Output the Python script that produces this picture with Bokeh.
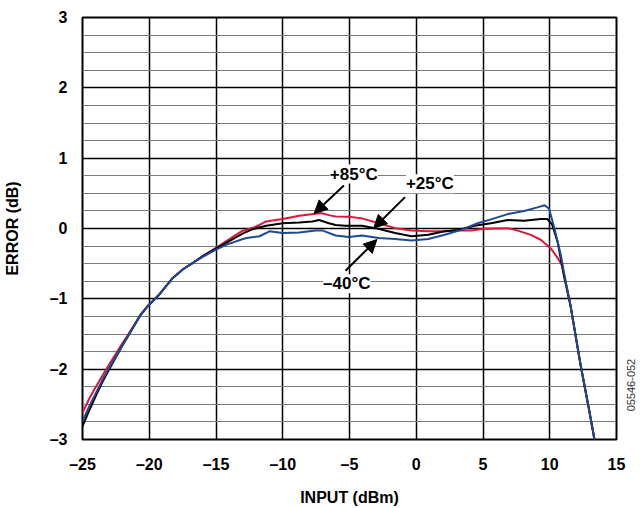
import math
from bokeh.plotting import figure
from bokeh.models import (Range1d, FixedTicker, Label, Arrow, NormalHead, LinearAxis)
from bokeh.embed import file_html
from bokeh.resources import INLINE

# ---- data ----
x_85 = [-25, -24.5, -24, -23.5, -23.0, -22.5, -22.0, -21.65, -20.66, -20.05, -19.3, -18.3, -17.45,
        -16.7, -15.96, -14.96, -14.0, -13.1, -12.24, -11.74, -11.25, -10.0, -8.77, -7.53,
        -7.16, -6.54, -6.04, -5.05, -4.06, -2.82, -1.58, -0.35, 0.9, 2.14, 3.13, 4.12, 5.1,
        6.85, 7.6, 8.58, 9.32, 10.06, 10.6, 10.93, 11.55, 12.3, 12.9, 13.35]
y_85 = [-2.62, -2.42, -2.25, -2.09, -1.93, -1.78, -1.63, -1.53, -1.23, -1.09, -0.95, -0.716, -0.576,
        -0.484, -0.39, -0.27, -0.15, -0.04, 0.01, 0.05, 0.10, 0.135, 0.18, 0.21,
        0.22, 0.19, 0.17, 0.167, 0.144, 0.075, 0.005, -0.03, -0.04, -0.04, -0.03, -0.03, -0.005,
        0.005, -0.03, -0.09, -0.16, -0.28, -0.42, -0.53, -1.09, -1.93, -2.53, -3.0]

x_25 = [-25, -24.5, -24.0, -23.5, -23.0, -22.5, -22.0, -21.65, -20.66, -20.05, -19.3, -18.3, -17.45,
        -16.7, -15.96, -14.96, -14.2, -12.98, -12.24, -11.25, -10.0, -8.77, -7.78, -7.28, -6.54,
        -6.04, -5.3, -4.06, -3.07, -1.58, -0.35, 0.9, 2.14, 3.13, 4.37, 5.6, 6.85, 8.09, 9.32,
        9.82, 10.19, 10.6, 11.05, 11.55, 12.3, 12.9, 13.35]
y_25 = [-2.81, -2.59, -2.38, -2.18, -2.00, -1.83, -1.66, -1.55, -1.23, -1.09, -0.95, -0.716, -0.576,
        -0.484, -0.39, -0.28, -0.20, -0.07, -0.01, 0.04, 0.075, 0.084, 0.10, 0.12, 0.075,
        0.05, 0.04, 0.04, 0.005, -0.065, -0.11, -0.09, -0.04, -0.02, 0.04, 0.075, 0.12, 0.11, 0.135,
        0.135, 0.05, -0.2, -0.66, -1.09, -1.93, -2.53, -3.0]

x_m40 = [-25, -24.5, -24.0, -23.5, -23.0, -22.5, -22.0, -21.65, -20.66, -20.05, -19.3, -18.3, -17.45,
         -16.7, -15.96, -15.0, -14.2, -12.98, -12.7, -11.74, -11.0, -10.0, -8.77, -7.53, -7.0,
         -6.04, -5.05, -4.06, -2.82, -1.58, -0.35, 0.9, 2.14, 3.37, 4.6, 5.6, 6.85, 8.09, 9.07,
         9.62, 9.95, 10.31, 10.8, 11.1, 11.55, 12.3, 12.9, 13.35]
y_m40 = [-2.74, -2.53, -2.34, -2.15, -1.98, -1.82, -1.66, -1.55, -1.23, -1.09, -0.95, -0.716, -0.576,
         -0.484, -0.40, -0.30, -0.23, -0.15, -0.135, -0.11, -0.04, -0.065, -0.056, -0.03, -0.03,
         -0.10, -0.12, -0.10, -0.135, -0.15, -0.17, -0.15, -0.09, -0.02, 0.075, 0.13, 0.205, 0.25, 0.30,
         0.33, 0.28, 0.03, -0.35, -0.66, -1.09, -1.93, -2.53, -3.0]

x_ticks = [-25, -20, -15, -10, -5, 0, 5, 10, 15]
y_ticks = [-3, -2, -1, 0, 1, 2, 3]
y_minor = [-2.75, -2.5, -2.25, -1.75, -1.5, -1.25, -0.75, -0.5, -0.25,
           0.25, 0.5, 0.75, 1.25, 1.5, 1.75, 2.25, 2.5, 2.75]
fig_id = "05546-052"
fig_id_y = -2.6

FONT = "Liberation Sans"

def lab(v):
    return ("\u2013" + str(abs(v))) if v < 0 else str(v)

p = figure(width=642, height=508, output_backend="svg", toolbar_location=None,
           x_range=Range1d(-25, 15), y_range=Range1d(-3, 3),
           min_border_left=82, min_border_right=22, min_border_top=17, min_border_bottom=61)

p.background_fill_color = "white"
p.border_fill_color = "white"
p.outline_line_color = "black"
p.outline_line_width = 2

p.xaxis.ticker = FixedTicker(ticks=x_ticks)
p.yaxis.ticker = FixedTicker(ticks=y_ticks, minor_ticks=y_minor)
p.xaxis.major_label_overrides = {v: lab(v) for v in x_ticks}
p.yaxis.major_label_overrides = {v: lab(v) for v in y_ticks}

for ax in (p.xaxis, p.yaxis):
    ax.axis_line_color = None
    ax.major_tick_line_color = None
    ax.minor_tick_line_color = None
    ax.major_label_text_font = FONT
    ax.major_label_text_font_style = "bold"
    ax.major_label_text_font_size = "16px"
    ax.major_label_text_color = "black"
    ax.axis_label_text_font = FONT
    ax.axis_label_text_font_style = "bold"
    ax.axis_label_text_font_size = "16px"
    ax.axis_label_text_color = "black"

p.xaxis.axis_label = "INPUT (dBm)"
p.yaxis.axis_label = "ERROR (dB)"
p.xaxis.major_label_standoff = 10
p.xaxis.axis_label_standoff = 13
p.yaxis.major_label_standoff = 9
p.yaxis.axis_label_standoff = 26

# figure id on the right side, reading bottom-to-top
rax = LinearAxis(ticker=FixedTicker(ticks=[fig_id_y]), major_label_overrides={fig_id_y: fig_id},
                 major_label_orientation=math.pi / 2, axis_line_color=None,
                 major_tick_line_color=None, minor_tick_line_color=None,
                 major_label_standoff=9, major_label_text_font=FONT,
                 major_label_text_font_size="11px", major_label_text_color="#333333")
p.add_layout(rax, "right")

p.xgrid.ticker = FixedTicker(ticks=x_ticks)
p.xgrid.grid_line_color = "black"
p.xgrid.grid_line_width = 1.5
p.ygrid.ticker = FixedTicker(ticks=y_ticks, minor_ticks=y_minor)
p.ygrid.grid_line_color = "black"
p.ygrid.grid_line_width = 1.5
p.ygrid.minor_grid_line_color = "#7a7a7a"
p.ygrid.minor_grid_line_width = 1.2

p.line(x_85, y_85, line_color="#e0163c", line_width=2)
p.line(x_25, y_25, line_color="black", line_width=2)
p.line(x_m40, y_m40, line_color="#1c4a94", line_width=2)

# annotation arrows
for (xs, ys, xe, ye) in [(-5.42, 0.61, -7.65, 0.213),
                         (-0.84, 0.446, -3.19, 0.004),
                         (-5.3, -0.6, -2.95, -0.158)]:
    p.add_layout(Arrow(end=NormalHead(size=13, fill_color="black", line_color="black", line_width=1),
                       x_start=xs, y_start=ys, x_end=xe, y_end=ye,
                       line_color="black", line_width=2))

for (t, x, y) in [("+85°C", -4.68, 0.774), ("+25°C", 1.02, 0.635), ("\u201340°C", -5.2, -0.786)]:
    p.add_layout(Label(x=x, y=y, text=t, text_align="center", text_baseline="middle",
                       text_font=FONT, text_font_style="bold", text_font_size="17px",
                       text_color="black", background_fill_color="white",
                       background_fill_alpha=1.0))

open("out.html", "w").write(file_html(p, INLINE))
